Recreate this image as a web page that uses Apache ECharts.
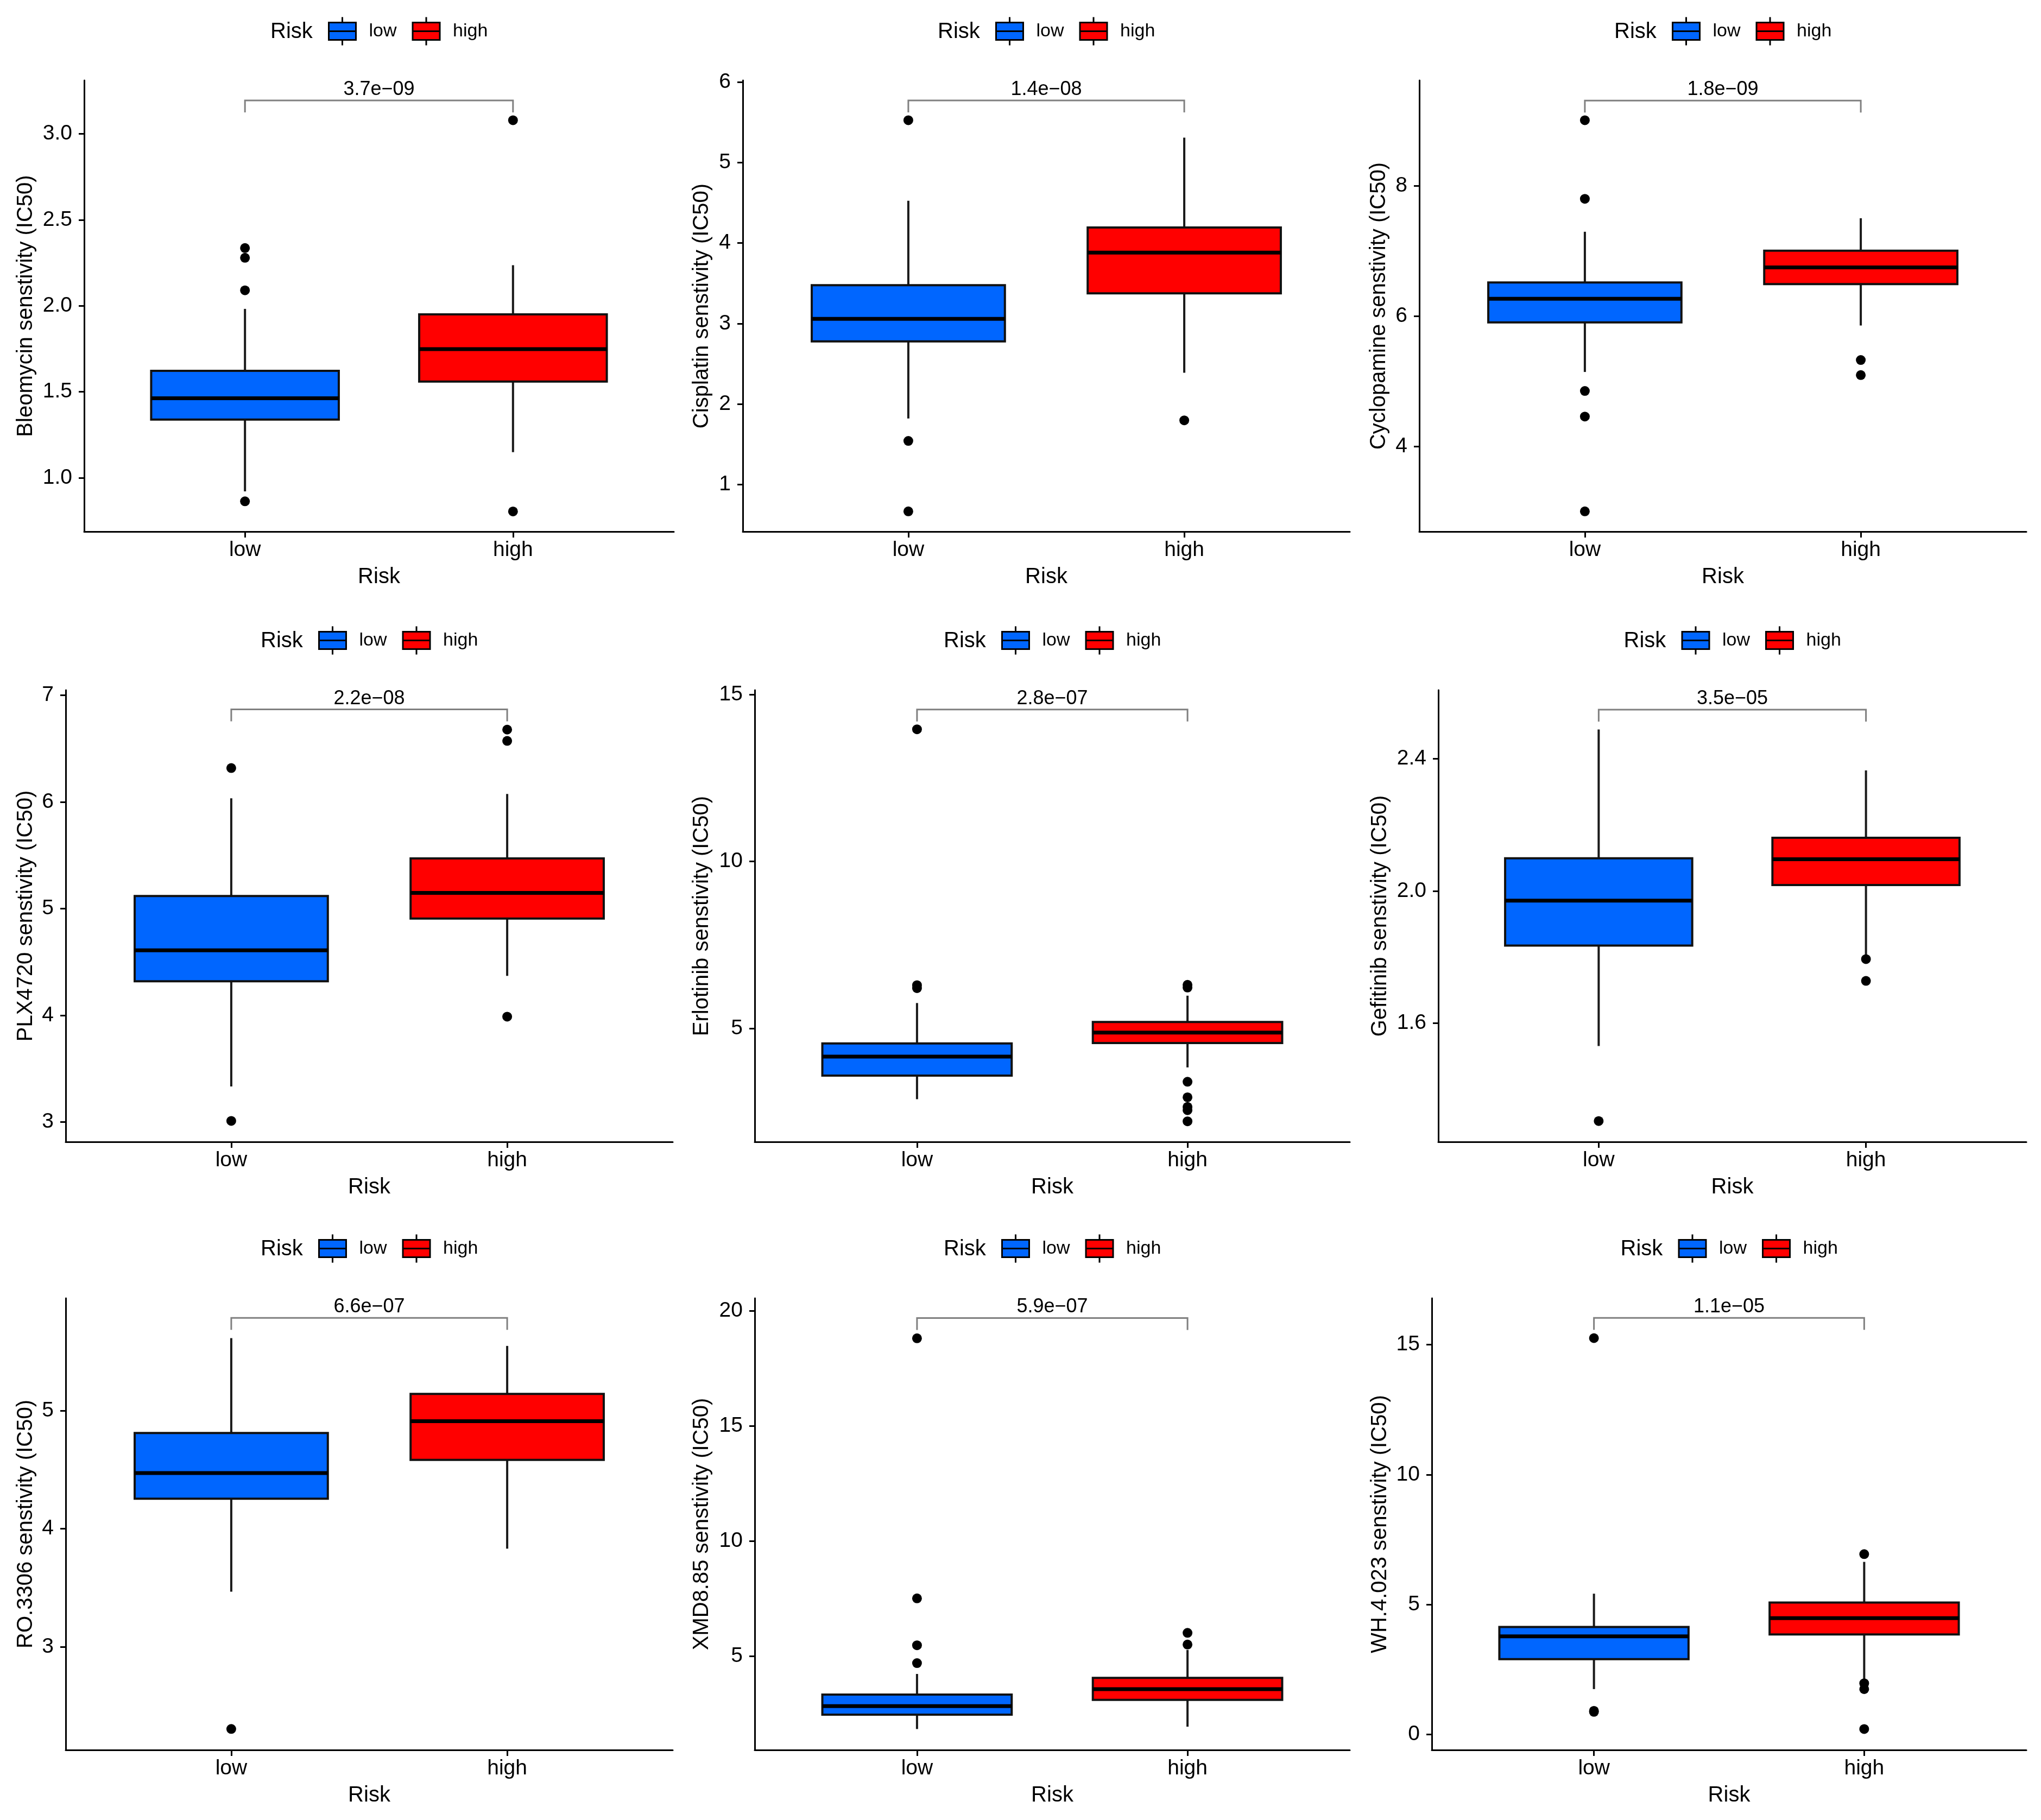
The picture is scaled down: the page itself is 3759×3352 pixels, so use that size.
<!DOCTYPE html>
<html>
<head>
<meta charset="utf-8">
<script src="https://cdn.jsdelivr.net/npm/echarts@6/dist/echarts.min.js"></script>
<style>
  html, body { margin: 0; padding: 0; background: #fff; }
  #chart { width: 3759px; height: 3352px; }
</style>
</head>
<body>
<div id="chart"></div>
<script>
// ---- data ----
const riskGroups = ['low', 'high'];
const drugs = ['Bleomycin', 'Cisplatin', 'Cyclopamine', 'PLX4720', 'Erlotinib', 'Gefitinib', 'RO.3306', 'XMD8.85', 'WH.4.023'];
const pValues = ['3.7e\u221209', '1.4e\u221208', '1.8e\u221209', '2.2e\u221208', '2.8e\u221207', '3.5e\u221205', '6.6e\u221207', '5.9e\u221207', '1.1e\u221205'];

// [lower whisker, Q1, median, Q3, upper whisker]
const lowBoxes = [
  [0.921, 1.338, 1.462, 1.622, 1.982],
  [1.819, 2.778, 3.057, 3.476, 4.526],
  [5.143, 5.905, 6.268, 6.518, 7.298],
  [3.334, 4.319, 4.609, 5.118, 6.034],
  [2.889, 3.596, 4.165, 4.559, 5.766],
  [1.531, 1.835, 1.971, 2.099, 2.489],
  [3.466, 4.254, 4.471, 4.810, 5.614],
  [1.835, 2.458, 2.828, 3.333, 4.226],
  [1.746, 2.896, 3.776, 4.134, 5.418]
];
const highBoxes = [
  [1.149, 1.559, 1.748, 1.950, 2.236],
  [2.387, 3.375, 3.881, 4.194, 5.311],
  [5.857, 6.494, 6.750, 7.006, 7.506],
  [4.370, 4.907, 5.147, 5.470, 6.074],
  [3.840, 4.571, 4.884, 5.197, 5.986],
  [1.805, 2.018, 2.096, 2.161, 2.365],
  [3.831, 4.583, 4.911, 5.141, 5.548],
  [1.936, 3.098, 3.569, 4.057, 5.269],
  [2.090, 3.851, 4.478, 5.075, 6.642]
];
const lowOutliers = [
  [0.863, 2.090, 2.279, 2.336],
  [5.528, 1.539, 0.663],
  [9.012, 7.804, 4.851, 4.458, 3.000],
  [6.317, 3.011],
  [13.956, 6.300, 6.210],
  [1.304],
  [2.304],
  [18.80, 7.508, 5.471, 4.697],
  [15.254, 0.910, 0.870]
];
const highOutliers = [
  [3.079, 0.804],
  [1.795],
  [5.327, 5.095],
  [6.677, 6.571, 3.988],
  [6.310, 6.230, 3.410, 2.947, 2.657, 2.560, 2.227],
  [1.794, 1.728],
  [],
  [6.010, 5.505],
  [6.940, 1.970, 1.746, 0.209]
];
const bracketY = [3.194, 5.774, 9.315, 6.866, 14.548, 2.549, 5.785, 19.68, 16.03];

const yTicks = [
  [1.0, 1.5, 2.0, 2.5, 3.0],
  [1, 2, 3, 4, 5, 6],
  [4, 6, 8],
  [3, 4, 5, 6, 7],
  [5, 10, 15],
  [1.6, 2.0, 2.4],
  [3, 4, 5],
  [5, 10, 15, 20],
  [0, 5, 10, 15]
];
const tickDecimals = [1, 0, 0, 0, 0, 1, 0, 0, 0];
const yMin = [0.687, 0.412, 2.69, 2.815, 1.613, 1.241, 2.126, 0.926, -0.597];
const yMax = [3.311, 6.024, 9.625, 7.047, 15.128, 2.608, 5.952, 20.54, 16.79];

// ---- layout ----
const FONT = 'Liberation Sans, Arial, sans-serif';
const LOW_COLOR = '#0066FF';
const HIGH_COLOR = '#FF0000';
const BOX_HALF = 0.35;
const panelLeft = [155, 1368, 2614, 121, 1390, 2649, 121, 1390, 2637];
const panelRight = [1241, 2486, 3732, 1239, 2486, 3732, 1239, 2486, 3732];
const rowTop = [148, 1271, 2391];
const rowBottom = [979, 2103, 3223];
const legendCy = [56, 1178, 2298];
const yNameGap = [87, 55, 54, 53, 77, 87, 53, 77, 75];
const legendIcon = 'path://M0,10 L50,10 L50,42 L0,42 Z M0,26 L50,26 M25,0 L25,10 M25,42 L25,52';

function boxRender(params, api) {
  const x = api.value(0);
  const wl = api.coord([x, api.value(1)]);
  const q1 = api.coord([x, api.value(2)]);
  const md = api.coord([x, api.value(3)]);
  const q3 = api.coord([x, api.value(4)]);
  const wh = api.coord([x, api.value(5)]);
  const xl = api.coord([x - BOX_HALF, api.value(3)])[0];
  const xr = api.coord([x + BOX_HALF, api.value(3)])[0];
  const color = api.visual('color');
  return {
    type: 'group',
    children: [
      { type: 'line', shape: { x1: wl[0], y1: wl[1], x2: q1[0], y2: q1[1] }, style: { stroke: '#1a1a1a', lineWidth: 4 } },
      { type: 'line', shape: { x1: q3[0], y1: q3[1], x2: wh[0], y2: wh[1] }, style: { stroke: '#1a1a1a', lineWidth: 4 } },
      { type: 'rect', shape: { x: xl, y: q3[1], width: xr - xl, height: q1[1] - q3[1] }, style: { fill: color, stroke: '#111', lineWidth: 4 } },
      { type: 'line', shape: { x1: xl, y1: md[1], x2: xr, y2: md[1] }, style: { stroke: '#000', lineWidth: 7 } }
    ]
  };
}

function bracketRender(label) {
  return function (params, api) {
    const a = api.coord([api.value(0), api.value(2)]);
    const b = api.coord([api.value(1), api.value(2)]);
    const mid = api.coord([(api.value(0) + api.value(1)) / 2, api.value(2)]);
    const drop = 22;
    return {
      type: 'group',
      children: [
        { type: 'polyline', shape: { points: [[a[0], a[1] + drop], a, b, [b[0], b[1] + drop]] }, style: { stroke: '#808080', lineWidth: 3, fill: null } },
        { type: 'text', x: mid[0], y: mid[1] - 2, style: { text: label, fontSize: 36, fontFamily: FONT, fill: '#000', align: 'center', verticalAlign: 'bottom' } }
      ]
    };
  };
}

const grids = [], xAxes = [], yAxes = [], series = [], legends = [], titles = [];

drugs.forEach(function (drug, i) {
  const row = Math.floor(i / 3);
  const left = panelLeft[i];
  const width = panelRight[i] - panelLeft[i];
  const cx = (panelLeft[i] + panelRight[i]) / 2;
  grids.push({ left: left, top: rowTop[row], width: width, height: rowBottom[row] - rowTop[row], containLabel: false });

  xAxes.push({
    gridIndex: i, type: 'value', min: 0.4, max: 2.6,
    name: 'Risk', nameLocation: 'middle', nameGap: 64,
    nameTextStyle: { fontSize: 40, color: '#000', fontFamily: FONT },
    axisLine: { show: true, onZero: false, lineStyle: { color: '#000', width: 3 } },
    axisTick: { show: true, length: 11, customValues: [1, 2], lineStyle: { color: '#000', width: 3 } },
    axisLabel: { show: true, customValues: [1, 2], margin: 15, fontSize: 39, color: '#000', fontFamily: FONT,
      formatter: function (v) { return riskGroups[Math.round(v) - 1]; } },
    splitLine: { show: false }
  });

  yAxes.push({
    gridIndex: i, type: 'value', min: yMin[i], max: yMax[i],
    name: drug + ' senstivity (IC50)', nameLocation: 'middle', nameRotate: 90, nameGap: yNameGap[i],
    nameTextStyle: { fontSize: 40, color: '#000', fontFamily: FONT },
    axisLine: { show: true, onZero: false, lineStyle: { color: '#000', width: 3 } },
    axisTick: { show: true, length: 10, customValues: yTicks[i], lineStyle: { color: '#000', width: 3 } },
    axisLabel: { show: true, customValues: yTicks[i], margin: 22, fontSize: 39, color: '#000', fontFamily: FONT,
      formatter: function (v) { return Number(v).toFixed(tickDecimals[i]); } },
    splitLine: { show: false }
  });

  series.push({
    name: 'low', type: 'custom', xAxisIndex: i, yAxisIndex: i,
    itemStyle: { color: LOW_COLOR },
    renderItem: boxRender,
    encode: { x: 0, y: [1, 2, 3, 4, 5] },
    data: [[1].concat(lowBoxes[i])]
  });
  series.push({
    name: 'high', type: 'custom', xAxisIndex: i, yAxisIndex: i,
    itemStyle: { color: HIGH_COLOR },
    renderItem: boxRender,
    encode: { x: 0, y: [1, 2, 3, 4, 5] },
    data: [[2].concat(highBoxes[i])]
  });
  series.push({
    type: 'scatter', xAxisIndex: i, yAxisIndex: i,
    symbolSize: 18, itemStyle: { color: '#000', opacity: 1 },
    data: lowOutliers[i].map(function (v) { return [1, v]; })
      .concat(highOutliers[i].map(function (v) { return [2, v]; }))
  });
  series.push({
    type: 'custom', xAxisIndex: i, yAxisIndex: i,
    renderItem: bracketRender(pValues[i]),
    encode: { x: [0, 1], y: 2 },
    data: [[1, 2, bracketY[i]]]
  });

  titles.push({
    text: 'Risk', left: cx - 200, top: legendCy[row] - 17, padding: 0,
    textStyle: { fontSize: 40, fontWeight: 'normal', color: '#000', fontFamily: FONT }
  });
  legends.push({
    left: cx - 94, top: legendCy[row] - 26, orient: 'horizontal', padding: 0,
    itemWidth: 50, itemHeight: 52, itemGap: 28, icon: legendIcon, selectedMode: false,
    itemStyle: { borderColor: '#000', borderWidth: 3 },
    textStyle: { fontSize: 34, color: '#000', fontFamily: FONT, padding: [0, 0, 0, 19] },
    data: [
      { name: 'low', itemStyle: { color: LOW_COLOR } },
      { name: 'high', itemStyle: { color: HIGH_COLOR } }
    ]
  });
});

const chart = echarts.init(document.getElementById('chart'), null, { renderer: 'canvas' });
chart.setOption({
  backgroundColor: '#fff',
  animation: false,
  textStyle: { fontFamily: FONT },
  title: titles,
  legend: legends,
  grid: grids,
  xAxis: xAxes,
  yAxis: yAxes,
  series: series
});
</script>
</body>
</html>
